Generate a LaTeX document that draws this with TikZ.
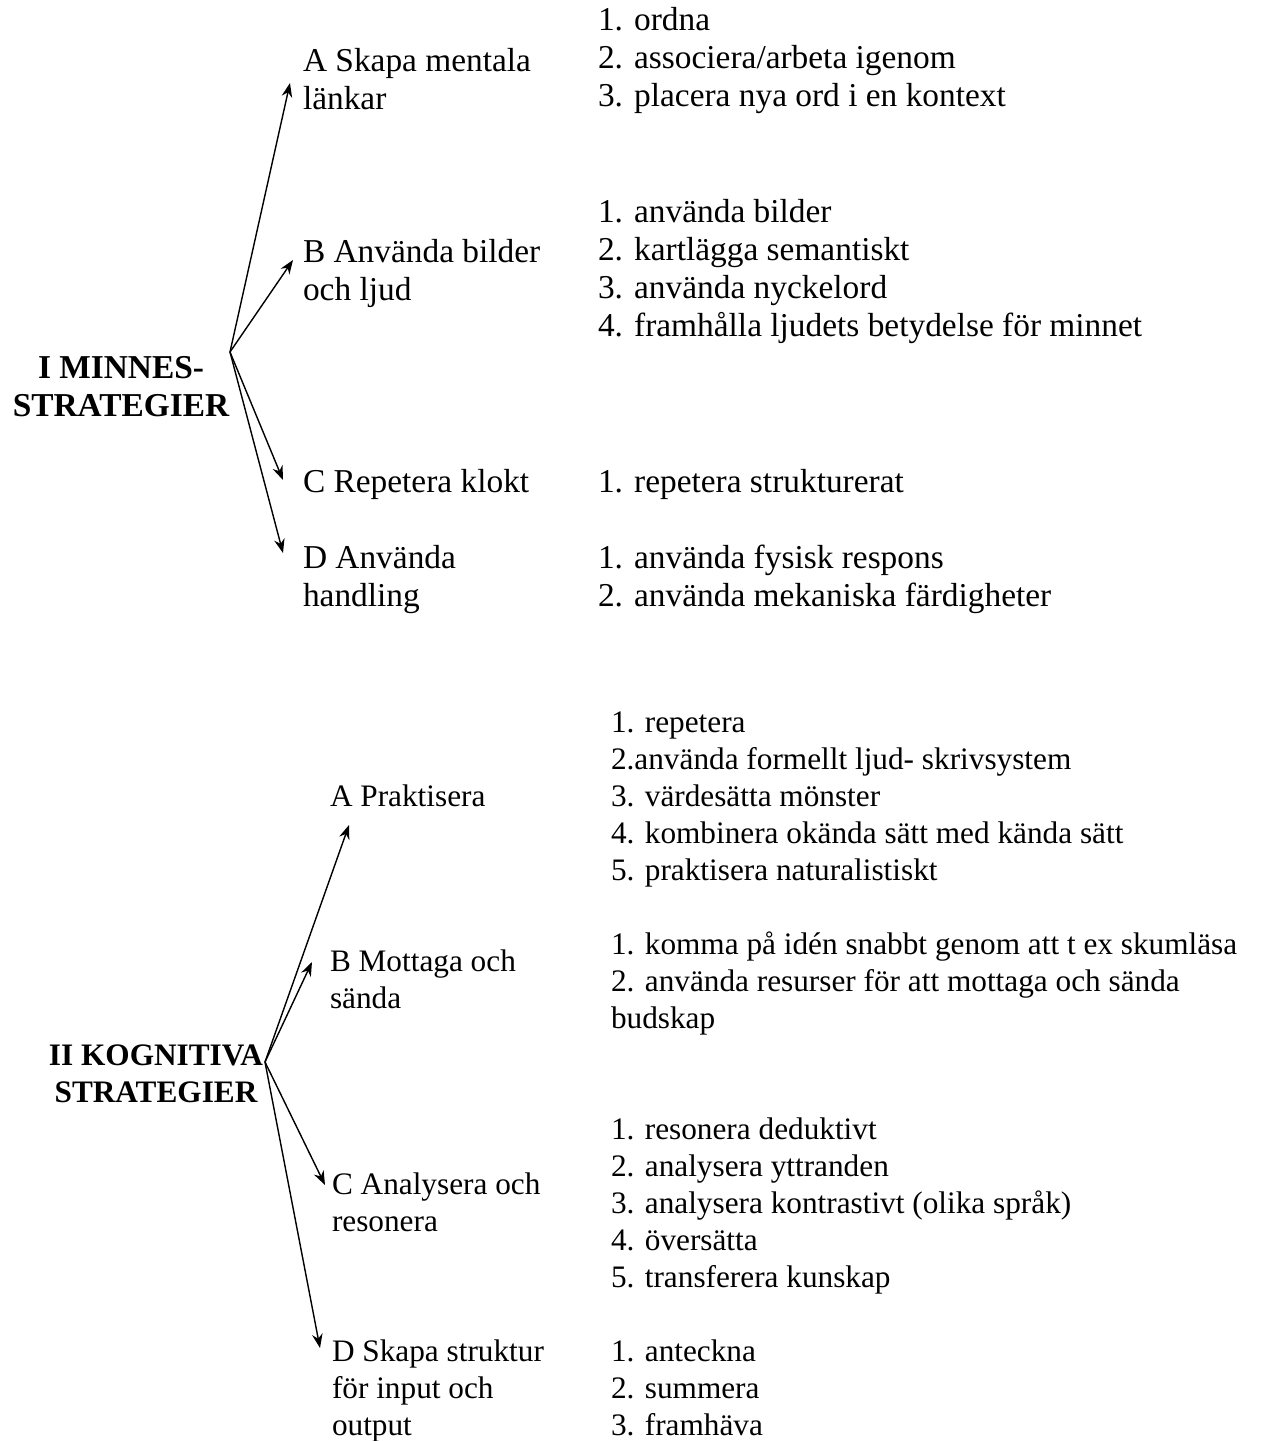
\documentclass[tikz,border=0pt]{standalone}
\usepackage{fontspec}
\setmainfont{Liberation Serif}
\usetikzlibrary{arrows.meta}

\newcommand{\topsize}{\fontsize{19pt}{21.6pt}\selectfont}
\newcommand{\botsize}{\fontsize{17.8pt}{21pt}\selectfont}

\begin{document}
\begin{tikzpicture}[
    x=0.02cm,
    y=-0.02cm,
    every node/.style={inner sep=0pt, outer sep=0pt},
    txt/.style={anchor=base west, align=left},
    head/.style={anchor=base, align=center},
    arr/.style={-{Stealth[length=8pt,width=6pt]}, line width=0.8pt}
]
\useasboundingbox (0,0) rectangle (1261,1441);

% I Minnesstrategier (nodes placed at the baseline of their last line)
\node[head, font=\topsize\bfseries] (headI) at (121,416) {I MINNES-\\STRATEGIER};
\coordinate (hubI) at (230,352);

\node[txt, font=\topsize] (labIA) at (303,109) {A Skapa mentala\\länkar};
\node[txt, font=\topsize] (labIB) at (303,300) {B Använda bilder\\och ljud};
\node[txt, font=\topsize] (labIC) at (303,492) {C Repetera klokt};
\node[txt, font=\topsize] (labID) at (303,606) {D Använda\\handling};

\node[txt, font=\topsize] (listIA) at (598,106) {1. ordna\\2. associera/arbeta igenom\\3. placera nya ord i en kontext};
\node[txt, font=\topsize] (listIB) at (598,336) {1. använda bilder\\2. kartlägga semantiskt\\3. använda nyckelord\\4. framhålla ljudets betydelse för minnet};
\node[txt, font=\topsize] (listIC) at (598,492) {1. repetera strukturerat};
\node[txt, font=\topsize] (listID) at (598,606) {1. använda fysisk respons\\2. använda mekaniska färdigheter};

% arrow tips
\coordinate (tipIA) at (290,83);
\coordinate (tipIB) at (293,260);
\coordinate (tipIC) at (283,480);
\coordinate (tipID) at (283,553);

\foreach \t in {IA,IB,IC,ID} {
    \draw[arr] (hubI) -- (tip\t);
}

% II Kognitiva strategier
\node[head, font=\botsize\bfseries] (headII) at (156,1102) {II KOGNITIVA\\STRATEGIER};
\coordinate (hubII) at (265,1062);

\node[txt, font=\botsize] (labIIA) at (330,806) {A Praktisera};
\node[txt, font=\botsize] (labIIB) at (330,1008) {B Mottaga och\\sända};
\node[txt, font=\botsize] (labIIC) at (332,1231) {C Analysera och\\resonera};
\node[txt, font=\botsize] (labIID) at (332,1435) {D Skapa struktur\\för input och\\output};

\node[txt, font=\botsize] (listIIA) at (611,880) {1. repetera\\2.använda formellt ljud- skrivsystem\\3. värdesätta mönster\\4. kombinera okända sätt med kända sätt\\5. praktisera naturalistiskt};
\node[txt, font=\botsize] (listIIB) at (611,1028) {1. komma på idén snabbt genom att t ex skumläsa\\2. använda resurser för att mottaga och sända\\budskap};
\node[txt, font=\botsize] (listIIC) at (611,1287) {1. resonera deduktivt\\2. analysera yttranden\\3. analysera kontrastivt (olika språk)\\4. översätta\\5. transferera kunskap};
\node[txt, font=\botsize] (listIID) at (611,1435) {1. anteckna\\2. summera\\3. framhäva};

% arrow tips
\coordinate (tipIIA) at (349,825);
\coordinate (tipIIB) at (312,962);
\coordinate (tipIIC) at (325,1185);
\coordinate (tipIID) at (320,1348);

\foreach \t in {IIA,IIB,IIC,IID} {
    \draw[arr] (hubII) -- (tip\t);
}

\end{tikzpicture}
\end{document}
